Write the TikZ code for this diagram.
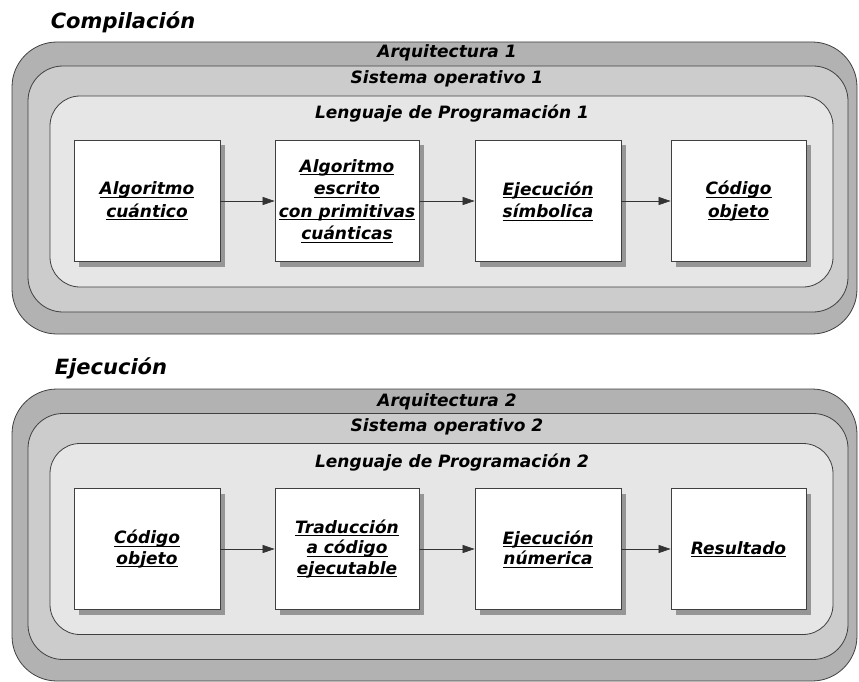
\documentclass[tikz,border=0pt]{standalone}
\usepackage{fontspec}
\setmainfont{DejaVu Sans}
\usetikzlibrary{shadows}
\usetikzlibrary{arrows.meta}
\definecolor{capaarq}{RGB}{178,178,178}
\definecolor{capasis}{RGB}{204,204,204}
\definecolor{capalen}{RGB}{230,230,230}
\definecolor{sombra}{RGB}{150,150,150}
\tikzset{
    capa/.style = {rectangle, draw=black!75, line width=0.8pt, inner sep=0pt},
    capaa/.style = {capa, fill=capaarq, rounded corners=45pt, minimum width=845pt, minimum height=292pt},
    capas/.style = {capa, fill=capasis, rounded corners=35pt, minimum width=820pt, minimum height=246pt},
    capal/.style = {capa, fill=capalen, rounded corners=30pt, minimum width=783pt, minimum height=191pt},
    rotulo/.style = {font=\fontsize{17}{20}\selectfont\bfseries\itshape},
    titulo/.style = {font=\fontsize{21}{24}\selectfont\bfseries\itshape},
    paso/.style = {rectangle, draw=black!75, line width=0.8pt, fill=white, align=center,
        minimum width=146pt, minimum height=121pt, inner sep=2pt,
        font=\fontsize{17}{22.5}\selectfont\bfseries\itshape,
        drop shadow={shadow xshift=5pt, shadow yshift=-5pt, fill=sombra, opacity=1}},
    pasob/.style = {paso, font=\fontsize{17}{20.5}\selectfont\bfseries\itshape},
    flecha/.style = {-{Triangle[length=12pt,width=8pt]}, line width=0.6pt, draw=black!80}
}
\newlength{\anchosub}
\newcommand{\sub}[1]{\settowidth{\anchosub}{#1}\rlap{#1}\rule[-2.8pt]{\anchosub}{0.9pt}}

\begin{document}
\begin{tikzpicture}[x=1pt,y=-1pt]
\useasboundingbox (0,0) rectangle (859,682);

% compilacion
\node[titulo] at (123, 22) (tcomp) {Compilación};
\node[capaa] at (434.5, 188) (arq1) {};
\node[capas] at (438, 189) (sis1) {};
\node[capal] at (441.5, 191.5) (len1) {};
\node[rotulo] at (447, 53) (larq1) {Arquitectura 1};
\node[rotulo] at (447, 79) (lsis1) {Sistema operativo 1};
\node[rotulo] at (452, 114) (llen1) {Lenguaje de Programación 1};

\node[paso] at (147, 201) (alg) {\sub{Algoritmo}\\\sub{cuántico}};
\node[paso,minimum width=144pt] at (347, 201) (prim) {\sub{Algoritmo}\\\sub{escrito}\\\sub{con primitivas}\\\sub{cuánticas}};
\node[paso] at (548, 201) (simb) {\sub{Ejecución}\\\sub{símbolica}};
\node[paso,minimum width=135pt] at (738.5, 201) (obj1) {\sub{Código}\\\sub{objeto}};

\draw[flecha] (alg) -- (prim);
\draw[flecha] (prim) -- (simb);
\draw[flecha] (simb) -- (obj1);

% ejecucion
\node[titulo] at (111, 368) (tejec) {Ejecución};
\node[capaa] at (434.5, 535) (arq2) {};
\node[capas] at (438, 536.5) (sis2) {};
\node[capal] at (441.5, 539) (len2) {};
\node[rotulo] at (447, 402) (larq2) {Arquitectura 2};
\node[rotulo] at (447, 427) (lsis2) {Sistema operativo 2};
\node[rotulo] at (452, 463) (llen2) {Lenguaje de Programación 2};

\node[pasob] at (147, 549) (obj2) {\sub{Código}\\\sub{objeto}};
\node[pasob,minimum width=144pt] at (347, 549) (trad) {\sub{Traducción}\\\sub{a código}\\\sub{ejecutable}};
\node[pasob] at (548, 549) (num) {\sub{Ejecución}\\\sub{númerica}};
\node[pasob,minimum width=135pt] at (738.5, 549) (res) {\sub{Resultado}};

\draw[flecha] (obj2) -- (trad);
\draw[flecha] (trad) -- (num);
\draw[flecha] (num) -- (res);
\end{tikzpicture}
\end{document}
